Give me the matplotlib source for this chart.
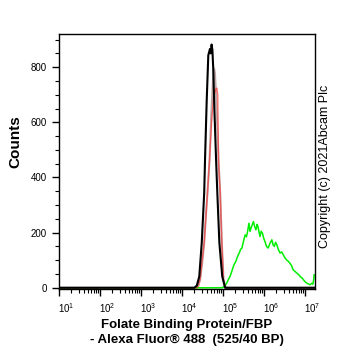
import numpy as np
import matplotlib
matplotlib.use("Agg")
import matplotlib.pyplot as plt
import matplotlib.transforms as mtransforms
from matplotlib.ticker import LogLocator, MultipleLocator, FixedLocator

plt.rcParams['font.family'] = ['Liberation Sans', 'DejaVu Sans']

# histogram traces: log10(intensity), counts
black_log = [0.5, 4.30, 4.36, 4.42, 4.48, 4.54, 4.56, 4.60, 4.64, 4.68, 4.70,
             4.72, 4.74, 4.76, 4.79, 4.83, 4.86, 4.91, 4.98, 5.05, 7.3]
black_cnt = [0, 0, 8, 41, 163, 344, 463, 674, 843, 866, 850,
             882, 862, 796, 640, 463, 344, 163, 41, 0, 0]

grey_log = [0.5, 4.36, 4.40, 4.44, 4.49, 4.54, 4.58, 4.62, 4.67, 4.71, 4.75,
            4.78, 4.80, 4.83, 4.86, 4.89, 4.93, 4.97, 5.01, 5.05, 5.09, 7.3]
grey_cnt = [0, 0, 8, 30, 90, 163, 260, 344, 463, 620, 740,
            795, 780, 700, 580, 457, 344, 163, 30, 5, 0, 0]

red_log = [0.5, 4.37, 4.44, 4.54, 4.62, 4.67, 4.72, 4.77, 4.82, 4.85, 4.87,
           4.89, 4.93, 4.97, 5.01, 5.05, 7.3]
red_cnt = [0, 0, 30, 163, 344, 463, 600, 690, 720, 724, 700,
           457, 344, 163, 30, 0, 0]

green_log = [0.5, 4.98, 5.01, 5.05, 5.09, 5.13, 5.17, 5.21, 5.25, 5.28, 5.31,
             5.34, 5.37, 5.40, 5.43, 5.46, 5.50, 5.54, 5.57, 5.59, 5.61, 5.63,
             5.66, 5.68, 5.71, 5.74, 5.77, 5.80, 5.83, 5.85, 5.88, 5.90, 5.93,
             5.96, 5.99, 6.02, 6.06, 6.10, 6.14, 6.19, 6.22, 6.25, 6.28, 6.31,
             6.35, 6.39, 6.43, 6.47, 6.51, 6.55, 6.59, 6.63, 6.67, 6.71, 6.75,
             6.80, 6.84, 6.88, 6.92, 6.96, 7.00, 7.04, 7.08, 7.12, 7.16, 7.19,
             7.21, 7.22]
green_cnt = [0, 0, 3, 8, 17, 30, 41, 58, 77, 88, 95,
             108, 119, 128, 140, 144, 170, 192, 185, 198, 215, 234,
             205, 216, 228, 240, 222, 210, 230, 222, 200, 186, 205,
             198, 180, 168, 150, 144, 160, 174, 155, 150, 165, 156,
             138, 126, 130, 119, 108, 101, 96, 89, 80, 65, 60,
             53, 48, 41, 36, 29, 22, 17, 14, 11, 16, 13,
             30, 47]

fig = plt.figure(figsize=(3.62, 3.51), dpi=100)
ax = fig.add_axes([0.163, 0.177, 0.707, 0.726])

ax.plot(10 ** np.array(grey_log), grey_cnt, color='#bfa8a8', lw=1.5, zorder=2)
ax.plot(10 ** np.array(red_log), red_cnt, color='#ff2020', lw=1.0, alpha=0.6, zorder=3)
ax.plot(10 ** np.array(green_log), green_cnt, color='#00ee00', lw=1.1, zorder=2)
ax.plot(10 ** np.array(black_log), black_cnt, color='black', lw=1.5, zorder=4)

ax.set_xscale('log')
ax.set_xlim(10 ** 1, 10 ** 7.24)
ax.set_ylim(-4, 920)

ax.xaxis.set_major_locator(FixedLocator([10.0 ** k for k in range(1, 8)]))
ax.xaxis.set_minor_locator(LogLocator(base=10, subs=np.arange(2, 10), numticks=20))
ax.set_xticklabels(['$\\mathregular{10^{%d}}$' % k for k in range(1, 8)])
ax.yaxis.set_major_locator(MultipleLocator(200))
ax.yaxis.set_minor_locator(MultipleLocator(50))

ax.tick_params(which='major', length=5, width=1, labelsize=7, direction='out', pad=4)
ax.tick_params(which='minor', length=3, width=0.8, direction='out')
for sp in ax.spines.values():
    sp.set_linewidth(1)

# labels sit a little right of their ticks in the original
shift = mtransforms.ScaledTranslation(7 / 100, 0, fig.dpi_scale_trans)
for lab in ax.get_xticklabels():
    lab.set_transform(lab.get_transform() + shift)

ax.set_ylabel('Counts', fontsize=11, fontweight='bold', labelpad=6)
ax.yaxis.label.set_y(0.576)
ax.set_xlabel('Folate Binding Protein/FBP\n- Alexa Fluor\u00ae 488  (525/40 BP)',
              fontsize=9.5, fontweight='bold', labelpad=3, linespacing=1.3)

fig.text(0.898, 0.526, 'Copyright (c) 2021Abcam Plc', rotation=90,
         fontsize=9, ha='center', va='center')

fig.savefig('out.png', dpi=100)
